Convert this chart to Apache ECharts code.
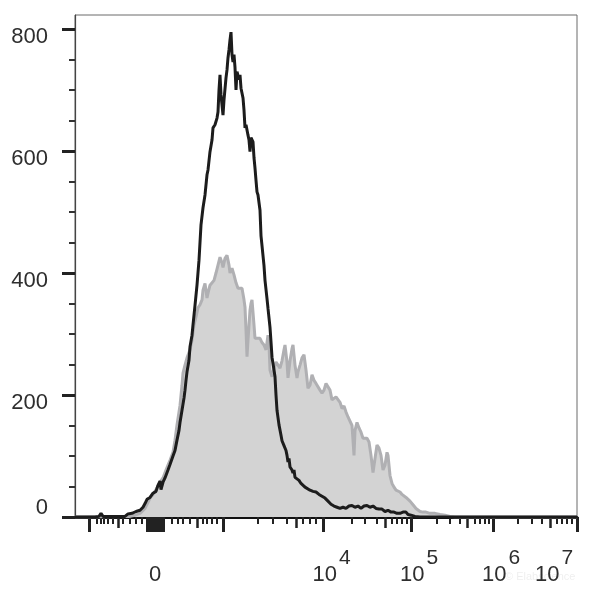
<!DOCTYPE html>
<html>
<head>
<meta charset="utf-8">
<script src="https://cdn.jsdelivr.net/npm/echarts@6/dist/echarts.min.js"></script>
<style>
html,body{margin:0;padding:0;background:#fff;}
#chart{width:600px;height:595px;}
</style>
</head>
<body>
<div id="chart"></div>
<script>
// x: display channel (0..502), y: count
const xMin = 0, xMax = 502;
const yMin = 0, yMax = 823;
const yLabelValues = [0, 200, 400, 600, 800];
const yMinorTicks = [50,100,150,250,300,350,450,500,550,650,700,750];
const xMajorTicks = [14,72,74,76,78,80,82,84,86,88,148,248.5,336,418,502];
const xMediumTicks = [43,122,221,310,392,475];
const xMinorTicks = [22,26,29,33,38,48,55,61,67,97,103,108,115,128,132,137,142,183,198,212,228,235,241,277,290,302,317,322,327,332,362,375,385,400,405,410,414,443,457,467,482,487,492,497];
const xLabelValues = [80, 248.5, 336, 418, 502];
const xLabelBase = ['0', '10', '10', '10', '10'];
const xLabelExp = ['', '4', '5', '6', '7'];

const blackSeries = [[0,0],[20,0],[24,1],[26,6],[28,1],[50,1],[53,5],[57,6],[61,9],[65,11],[68,16],[70,22],[72,29],[75,32],[78,39],[81,42],[83,52],[85,59],[86,45],[88,57],[90,64],[93,77],[95,86],[98,100],[100,109],[102,126],[104,142],[105,155],[107,175],[109,195],[110,208],[111,224],[112,238],[114,257],[115,279],[117,298],[118,315],[120,347],[122,380],[124,421],[126,479],[128,507],[130,528],[132,561],[133,569],[135,599],[137,618],[138,638],[140,643],[142,654],[143,664],[144,700],[145,725],[146,692],[148,659],[149,684],[151,720],[152,733],[153,753],[154,766],[155,782],[156,795],[157,758],[158,746],[159,758],[160,737],[161,700],[162,730],[164,717],[165,725],[166,703],[168,687],[169,667],[170,638],[171,643],[173,626],[174,618],[175,599],[176,622],[178,615],[179,589],[180,572],[181,552],[182,533],[183,528],[185,503],[186,461],[187,445],[189,412],[190,388],[192,358],[193,342],[195,311],[196,287],[197,262],[199,241],[200,230],[201,200],[202,175],[204,151],[206,134],[207,125],[209,117],[211,109],[212,101],[213,90],[214,96],[215,82],[217,77],[218,72],[219,77],[220,65],[222,64],[224,60],[226,55],[228,54],[230,49],[232,47],[235,44],[238,42],[241,41],[244,37],[247,34],[250,31],[253,26],[256,21],[259,18],[262,16],[265,14],[268,16],[271,14],[274,18],[277,19],[280,16],[283,18],[286,14],[289,18],[292,19],[295,16],[298,18],[301,14],[304,13],[307,13],[310,9],[313,11],[316,8],[319,8],[322,6],[325,6],[328,8],[331,8],[333,4],[336,3],[340,1],[345,0],[502,0]];

const graySeries = [[0,0],[55,1],[60,3],[65,6],[70,14],[73,24],[75,31],[78,37],[81,45],[85,57],[88,64],[91,77],[93,85],[95,93],[98,106],[100,126],[102,151],[105,183],[107,216],[108,236],[110,249],[112,261],[115,274],[117,290],[119,315],[121,328],[123,343],[125,348],[127,356],[128,372],[130,383],[132,359],[133,367],[135,380],[137,383],[139,388],[141,400],[143,413],[145,426],[147,417],[148,409],[150,424],[152,429],[154,413],[155,400],[157,408],[159,397],[161,384],[163,375],[165,372],[167,375],[169,356],[170,344],[171,307],[172,263],[173,290],[175,339],[176,350],[177,356],[179,315],[180,293],[182,290],[185,293],[187,286],[189,282],[191,274],[193,298],[194,282],[195,241],[197,230],[199,244],[201,254],[203,249],[205,244],[207,256],[209,274],[210,282],[212,254],[213,228],[215,256],[217,276],[218,282],[220,249],[222,228],[223,238],[225,249],[227,261],[229,266],[231,241],[233,211],[235,216],[237,233],[239,224],[241,219],[243,216],[245,208],[247,203],[249,208],[251,219],[253,219],[255,208],[257,192],[259,195],[261,197],[263,195],[265,188],[267,178],[269,182],[271,172],[273,164],[275,162],[277,150],[279,101],[280,142],[282,155],[284,146],[286,139],[288,129],[290,126],[292,129],[294,123],[296,101],[298,73],[300,96],[302,118],[304,113],[306,101],[308,77],[310,85],[312,106],[313,101],[315,68],[317,55],[319,49],[321,44],[323,47],[325,41],[327,37],[329,34],[331,32],[333,29],[335,26],[337,24],[339,18],[341,14],[343,11],[345,9],[348,8],[351,8],[355,6],[360,6],[365,4],[370,3],[375,1],[380,0],[502,0]];

const FONT = '"Liberation Sans", Arial, Helvetica, sans-serif';
const TXT = '#2e2e2e';

function tickAxis(values, len, width, showLine) {
  return {
    type: 'value', min: xMin, max: xMax, position: 'bottom',
    axisLine: showLine ? { show: true, lineStyle: { color: '#111', width: 3 } } : { show: false },
    axisTick: { show: true, customValues: values, length: len, inside: false, lineStyle: { color: '#222', width: width } },
    axisLabel: { show: false },
    splitLine: { show: false }
  };
}

const chart = echarts.init(document.getElementById('chart'), null, { renderer: 'canvas' });

const xLabelAxis = tickAxis(xMajorTicks, 15, 3, true);
xLabelAxis.axisLabel = {
  show: true,
  customValues: xLabelValues,
  margin: 31,
  hideOverlap: false,
  formatter: function (v) {
    const i = xLabelValues.indexOf(v);
    if (i < 0) return '';
    if (xLabelExp[i] === '') return '{b|' + xLabelBase[i] + '}';
    if (i === xLabelValues.length - 1) return '{b|' + xLabelBase[i] + '}{s|' + xLabelExp[i] + '}{q|}';
    return '{p|}{b|' + xLabelBase[i] + '}{s|' + xLabelExp[i] + '}';
  },
  rich: {
    b: { fontSize: 22, fontFamily: FONT, color: TXT, lineHeight: 54, verticalAlign: 'middle' },
    s: { fontSize: 21, fontFamily: FONT, color: TXT, lineHeight: 22, verticalAlign: 'top', padding: [0, 0, 0, 2] },
    p: { width: 16, lineHeight: 22 },
    q: { width: 46, lineHeight: 22 }
  }
};

const option = {
  backgroundColor: '#fff',
  animation: false,
  grid: { left: 75, right: 23, top: 15, bottom: 78, show: true, borderColor: '#6a6a6a', borderWidth: 1, backgroundColor: 'transparent', containLabel: false, outerBoundsMode: 'none' },
  xAxis: [
    xLabelAxis,
    tickAxis(xMediumTicks, 11, 2.5, false),
    tickAxis(xMinorTicks, 7, 2, false)
  ],
  yAxis: [
    {
      type: 'value', min: yMin, max: yMax,
      axisLine: { show: true, lineStyle: { color: '#444', width: 1.2 } },
      axisTick: { show: true, customValues: yLabelValues, length: 13, lineStyle: { color: '#222', width: 3 } },
      axisLabel: {
        show: true, customValues: yLabelValues, margin: 27,
        formatter: function (v) { return v === 0 ? '{z|0}' : '{u|' + v + '}'; },
        rich: {
          u: { fontSize: 22, fontFamily: FONT, color: TXT, lineHeight: 22, padding: [16, 0, 0, 0] },
          z: { fontSize: 22, fontFamily: FONT, color: TXT, lineHeight: 22, padding: [0, 0, 18, 0] }
        }
      },
      splitLine: { show: false }
    },
    {
      type: 'value', min: yMin, max: yMax, position: 'left',
      axisLine: { show: false },
      axisTick: { show: true, customValues: yMinorTicks, length: 6, lineStyle: { color: '#333', width: 2 } },
      axisLabel: { show: false },
      splitLine: { show: false }
    }
  ],
  series: [
    {
      name: 'control', type: 'line', xAxisIndex: 0, yAxisIndex: 0,
      data: graySeries, showSymbol: false, symbol: 'none', smooth: false,
      lineStyle: { color: '#b0b0b3', width: 3 },
      areaStyle: { color: '#d3d3d3', opacity: 1 },
      z: 2
    },
    {
      name: 'stained', type: 'line', xAxisIndex: 0, yAxisIndex: 0,
      data: blackSeries, showSymbol: false, symbol: 'none', smooth: false,
      lineStyle: { color: '#1c1c1c', width: 3 },
      z: 3
    }
  ],
  graphic: [
    { type: 'text', left: 505, top: 571, z: -1, style: { text: '© Elabscience', fontSize: 11, fontFamily: FONT, fill: 'rgba(0,0,0,0.07)' } }
  ]
};
chart.setOption(option);
</script>
</body>
</html>
